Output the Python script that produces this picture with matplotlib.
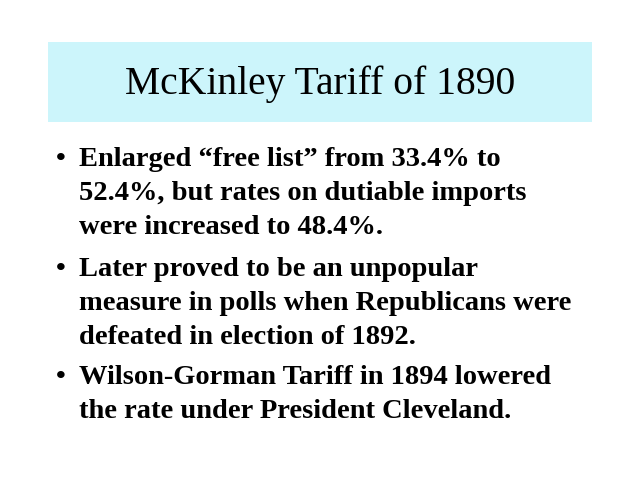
import matplotlib
matplotlib.use("Agg")
import matplotlib.pyplot as plt
from matplotlib.patches import Rectangle

title = "McKinley Tariff of 1890"
bullets = [
    ["Enlarged \u201cfree list\u201d from 33.4% to",
     "52.4%, but rates on dutiable imports",
     "were increased to 48.4%."],
    ["Later proved to be an unpopular",
     "measure in polls when Republicans were",
     "defeated in election of 1892."],
    ["Wilson-Gorman Tariff in 1894 lowered",
     "the rate under President Cleveland."],
]
bullet_tops = [160, 269, 378]
line_gap = 34

fig = plt.figure(figsize=(6.4, 4.8), dpi=100)
fig.patch.set_facecolor("white")
ax = fig.add_axes([0, 0, 1, 1])
ax.set_xlim(0, 640)
ax.set_ylim(480, 0)
ax.axis("off")

ax.add_patch(Rectangle((48, 42), 544, 80, facecolor="#ccf5fb", edgecolor="none"))
ax.text(320, 84, title, fontsize=28.5, family="Liberation Serif",
        ha="center", va="center")

for lines, top in zip(bullets, bullet_tops):
    ax.text(56, top, "\u2022", fontsize=20, family="Liberation Serif",
            fontweight="bold", va="center")
    for i, line in enumerate(lines):
        ax.text(79, top + i * line_gap, line, fontsize=20.5,
                family="Liberation Serif", fontweight="bold", va="center")

fig.savefig("out.png", dpi=100)
